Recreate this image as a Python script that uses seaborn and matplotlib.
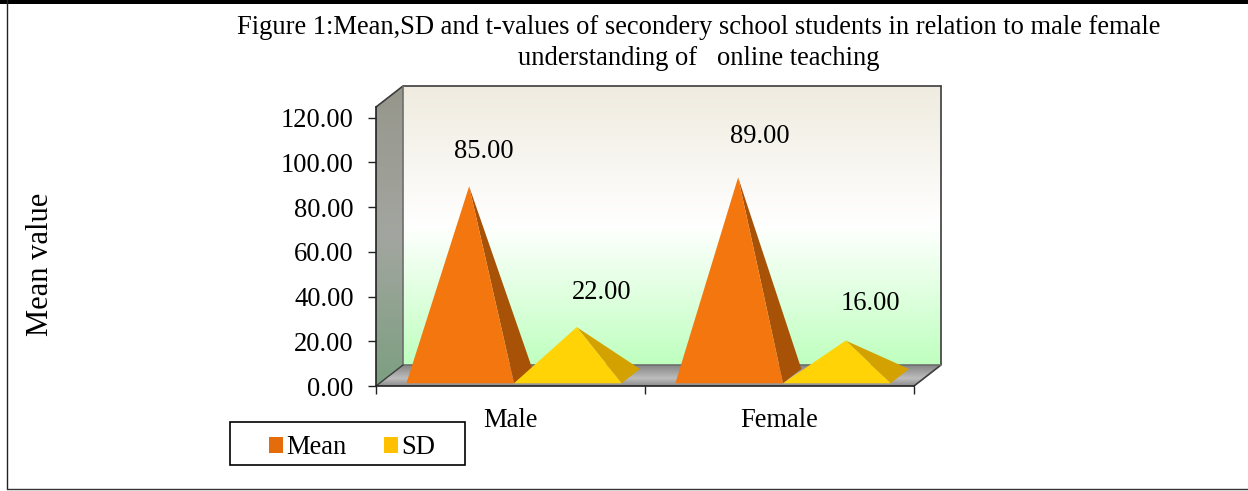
import matplotlib
matplotlib.use("Agg")
import matplotlib.pyplot as plt
import numpy as np
import pandas as pd
import seaborn as sns
from matplotlib.colors import LinearSegmentedColormap
from matplotlib.lines import Line2D
from matplotlib.patches import Patch, Polygon, Rectangle

GROUPS = ["Male", "Female"]
SERIES = ["Mean", "SD"]
MEAN_VALUES = [85.0, 89.0]
SD_VALUES = [22.0, 16.0]
Y_TICKS = [0, 20, 40, 60, 80, 100, 120]

TITLE = (
    "Figure 1:Mean,SD and t-values of secondery school students in relation to male female\n"
    "understanding of   online teaching"
)

W, H = 1248, 491
PX_X = 269.0  # pixels for one category
PX_Y = 2.235  # pixels for one unit of value
DEPTH_X = 27 / PX_X
DEPTH_Y = 21 / PX_Y
WALL_TOP = 124.8

FRONT = {"Mean": "#F4760E", "SD": "#FFD305"}
SIDE = {"Mean": "#A85208", "SD": "#D4A200"}
LEGEND = {"Mean": "#E46C0A", "SD": "#FFC000"}
# label offset from the tip, pixels
LABEL_OFFSET = {("Mean", 0): (15, 35), ("SD", 0): (25, 35), ("Mean", 1): (22, 41), ("SD", 1): (25, 37)}
FONT_SIZE = 19.1

sns.set_theme(style="white")
plt.rcParams["font.family"] = ["Liberation Serif", "DejaVu Serif"]
plt.rcParams["axes.unicode_minus"] = False
plt.rcParams["text.color"] = "black"

df = pd.DataFrame(
    {
        "group": GROUPS * 2,
        "series": [SERIES[0]] * 2 + [SERIES[1]] * 2,
        "value": MEAN_VALUES + SD_VALUES,
    }
)

fig = plt.figure(figsize=(W / 100, H / 100), dpi=100)
ax = fig.add_axes([376 / W, 1 - 386 / H, (941 - 376) / W, (386 - 86) / H])
ax.patch.set_alpha(0)

# bars give the geometry, pyramids are drawn on top of it
sns.barplot(
    data=df, x="group", y="value", hue="series", order=GROUPS, hue_order=SERIES,
    palette=FRONT, width=0.8, gap=0, legend=False, ax=ax,
)

xlim = (-0.5, 1.5 + DEPTH_X)
ylim = (0, WALL_TOP + DEPTH_Y)


def gradient(colors, extent, zorder=0, clip=None):
    cmap = LinearSegmentedColormap.from_list("g", colors)
    im = ax.imshow(
        np.linspace(0, 1, 256).reshape(-1, 1), cmap=cmap, extent=extent,
        aspect="auto", origin="upper", zorder=zorder,
    )
    if clip is not None:
        patch = Polygon(clip, closed=True, transform=ax.transData, facecolor="none", edgecolor="none")
        ax.add_patch(patch)
        im.set_clip_path(patch)
    return im


x0, x1 = -0.5, 1.5
# back wall
gradient(
    [(0, "#EFEBDF"), (0.5, "#FFFFFF"), (1, "#BFFFBF")],
    (x0 + DEPTH_X, x1 + DEPTH_X, DEPTH_Y, WALL_TOP + DEPTH_Y),
)
# side wall
side_wall = [(x0, 0), (x0 + DEPTH_X, DEPTH_Y), (x0 + DEPTH_X, WALL_TOP + DEPTH_Y), (x0, WALL_TOP)]
gradient(
    [(0, "#96968B"), (0.5, "#A3A6A0"), (1, "#7C9F80")],
    (x0, x0 + DEPTH_X, 0, WALL_TOP + DEPTH_Y), zorder=0.5, clip=side_wall,
)
# floor
floor = [(x0, 0), (x1, 0), (x1 + DEPTH_X, DEPTH_Y), (x0 + DEPTH_X, DEPTH_Y)]
gradient(
    [(0, "#808080"), (0.65, "#BDBDBD"), (1, "#8C8C8C")],
    (x0, x1 + DEPTH_X, 0, DEPTH_Y), zorder=0.6, clip=floor,
)

edge = "#3C3C3C"
ax.plot([x0, x0 + DEPTH_X, x1 + DEPTH_X], [WALL_TOP, WALL_TOP + DEPTH_Y, WALL_TOP + DEPTH_Y], color=edge, lw=1.2, zorder=1, clip_on=False)
ax.plot([x1 + DEPTH_X, x1 + DEPTH_X, x1], [WALL_TOP + DEPTH_Y, DEPTH_Y, 0], color=edge, lw=1.2, zorder=1, clip_on=False)
ax.plot([x0 + DEPTH_X, x0 + DEPTH_X, x1 + DEPTH_X], [WALL_TOP + DEPTH_Y, DEPTH_Y, DEPTH_Y], color="#6E6E6E", lw=1.2, zorder=1)
ax.plot([x0, x0 + DEPTH_X], [0, DEPTH_Y], color=edge, lw=1.0, zorder=1)

# pyramids
base_d = 0.13
tip_d = 0.46
back_d = 0.81
bars = list(zip(ax.patches, df["series"], [0, 1, 0, 1]))
bars.sort(key=lambda b: b[0].get_x())
for bar, series, group in bars:
    bar.set_visible(False)
    left, right = bar.get_x(), bar.get_x() + bar.get_width()
    mid = (left + right) / 2
    value = bar.get_height()
    base_y = base_d * DEPTH_Y
    front_l = (left + base_d * DEPTH_X, base_y)
    front_r = (right + base_d * DEPTH_X, base_y)
    back_r = (right + back_d * DEPTH_X, back_d * DEPTH_Y)
    tip = (mid + tip_d * DEPTH_X, value + tip_d * DEPTH_Y)
    ax.add_patch(Polygon([front_r, back_r, tip], closed=True, facecolor=SIDE[series], edgecolor="none", zorder=3))
    ax.add_patch(Polygon([front_l, front_r, tip], closed=True, facecolor=FRONT[series], edgecolor="none", zorder=3))
    off = LABEL_OFFSET[(series, group)]
    ax.annotate(
        f"{value:.2f}", xy=tip, xytext=(off[0] * 0.72, off[1] * 0.72), textcoords="offset points",
        ha="center", va="center", fontsize=FONT_SIZE, color="black", zorder=5,
    )

ax.set_xlim(xlim)
ax.set_ylim(ylim)

# axes
sns.despine(ax=ax, top=True, right=True)
for name in ["left", "bottom"]:
    ax.spines[name].set_color("#222222")
    ax.spines[name].set_linewidth(1.2)
    ax.spines[name].set_zorder(6)
ax.spines["left"].set_bounds(0, WALL_TOP)
ax.spines["bottom"].set_bounds(x0, x1)

ax.set_yticks(Y_TICKS)
ax.set_yticklabels([f"{v:.2f}" for v in Y_TICKS], fontsize=FONT_SIZE, color="black")
ax.tick_params(axis="y", left=True, length=6, width=1, color="#222222", pad=10)
ax.set_xticks([0, 1])
ax.set_xticklabels(GROUPS, fontsize=FONT_SIZE, color="black")
ax.set_xticks([-0.5, 0.5, 1.5], minor=True)
ax.tick_params(axis="x", which="major", bottom=False, length=0, pad=15.5)
ax.tick_params(axis="x", which="minor", bottom=True, length=6, width=1, color="#222222")
ax.set_xlabel("")
ax.set_ylabel("")

fig.text(41 / W, 1 - 264 / H, "Mean value", rotation=90, ha="center", va="center", fontsize=22, color="black")
fig.text(699 / W, 1 - 43 / H, TITLE, ha="center", va="center", fontsize=19.1, color="black", linespacing=1.36)

# legend, box drawn apart so the padding can differ from the text spacing
fig.add_artist(Rectangle(
    (230 / W, 1 - 465 / H), 235 / W, 43 / H, transform=fig.transFigure,
    facecolor="white", edgecolor="black", lw=1.2, zorder=4,
))
handles = [Patch(facecolor=LEGEND[s], edgecolor="none", label=s) for s in SERIES]
leg = fig.legend(
    handles=handles, ncol=2, loc="center", bbox_to_anchor=(352 / W, 1 - 447.5 / H),
    fontsize=FONT_SIZE, frameon=False, labelcolor="black",
    handlelength=0.55, handleheight=0.55, handletextpad=0.12, columnspacing=1.4,
    borderpad=0.42, borderaxespad=0,
)
leg.set_zorder(5)

# outer frame of the page
fig.add_artist(Rectangle((0, 1 - 4 / H), 1, 4 / H, transform=fig.transFigure, facecolor="black", edgecolor="none"))
fig.add_artist(Line2D([7.2 / W, 7.2 / W], [1, 1 - 489 / H], transform=fig.transFigure, color="#222222", lw=1.0))
fig.add_artist(Line2D([7.2 / W, 1], [1 - 489 / H, 1 - 489 / H], transform=fig.transFigure, color="#333333", lw=1.0))

fig.savefig("out.png", dpi=100)
